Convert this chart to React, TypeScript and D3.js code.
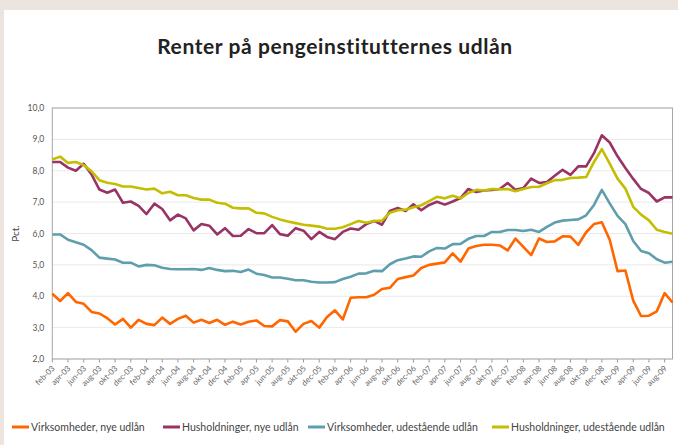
import * as d3 from "d3";
import { useEffect, useRef } from "react";

// Danish month abbreviations for the tick labels
const monthNames = ["jan", "feb", "mar", "apr", "maj", "jun", "jul", "aug", "sep", "okt", "nov", "dec"];

// Monthly observations feb-03 .. sep-09
const months = d3.timeMonth.range(new Date(2003, 1, 1), new Date(2009, 9, 1));

const virksomhederNye = [
  4.08, 3.85, 4.1, 3.82, 3.76, 3.5, 3.45, 3.3, 3.1, 3.28,
  3.0, 3.25, 3.12, 3.08, 3.32, 3.12, 3.28, 3.38, 3.16, 3.25,
  3.15, 3.25, 3.09, 3.19, 3.1, 3.19, 3.23, 3.05, 3.04, 3.24,
  3.2, 2.87, 3.12, 3.21, 3.0, 3.34, 3.55, 3.26, 3.95, 3.97,
  3.97, 4.05, 4.23, 4.27, 4.55, 4.61, 4.66, 4.9, 5.0, 5.04,
  5.08, 5.37, 5.1, 5.52, 5.6, 5.64, 5.64, 5.62, 5.46, 5.84,
  5.57, 5.31, 5.84, 5.73, 5.75, 5.91, 5.9, 5.64, 6.04, 6.3,
  6.36, 5.8, 4.8, 4.82, 3.86, 3.37, 3.38, 3.52, 4.1, 3.8,
];

const husholdningerNye = [
  8.28, 8.28, 8.1, 8.0, 8.22, 7.88, 7.4, 7.3, 7.4, 6.98,
  7.02, 6.88, 6.62, 6.95, 6.78, 6.42, 6.6, 6.48, 6.1, 6.3,
  6.25, 5.97, 6.17, 5.92, 5.93, 6.14, 6.01, 6.01, 6.27, 5.98,
  5.93, 6.17, 6.09, 5.82, 6.05, 5.89, 5.82, 6.05, 6.16, 6.12,
  6.3, 6.4, 6.28, 6.72, 6.81, 6.72, 6.93, 6.74, 6.91, 7.01,
  6.92, 7.02, 7.13, 7.42, 7.32, 7.37, 7.39, 7.42, 7.61, 7.39,
  7.45, 7.75, 7.61, 7.64, 7.84, 8.03, 7.87, 8.14, 8.14, 8.56,
  9.13, 8.9, 8.46, 8.09, 7.74, 7.42, 7.29, 7.02, 7.15, 7.15,
];

const virksomhederUde = [
  5.97, 5.97, 5.8, 5.72, 5.64, 5.47, 5.23, 5.2, 5.17, 5.07,
  5.07, 4.95, 5.0, 4.99, 4.91, 4.87, 4.86, 4.86, 4.87, 4.84,
  4.9, 4.84, 4.8, 4.81, 4.77, 4.85, 4.72, 4.68, 4.6, 4.6,
  4.56, 4.51, 4.51, 4.46, 4.44, 4.44, 4.45, 4.55, 4.62, 4.72,
  4.73, 4.81, 4.8, 5.02, 5.15, 5.2, 5.27, 5.26, 5.43, 5.54,
  5.52, 5.66, 5.67, 5.83, 5.92, 5.92, 6.05, 6.05, 6.11, 6.11,
  6.08, 6.12, 6.05, 6.21, 6.35, 6.41, 6.43, 6.45, 6.58, 6.91,
  7.39, 6.96, 6.56, 6.3, 5.76, 5.44, 5.37, 5.18, 5.07, 5.1,
];

const husholdningerUde = [
  8.36, 8.45, 8.25, 8.28, 8.18, 7.98, 7.7, 7.62, 7.58, 7.5,
  7.5, 7.45, 7.4, 7.43, 7.28, 7.33, 7.22, 7.22, 7.13, 7.08,
  7.08, 6.98, 6.95, 6.82, 6.8, 6.8, 6.66, 6.64, 6.53, 6.45,
  6.38, 6.33, 6.28, 6.25, 6.22, 6.15, 6.15, 6.2, 6.3, 6.4,
  6.34, 6.4, 6.41, 6.66, 6.74, 6.76, 6.84, 6.9, 7.03, 7.17,
  7.12, 7.2, 7.12, 7.29, 7.39, 7.37, 7.42, 7.41, 7.42, 7.35,
  7.42, 7.48, 7.49, 7.6, 7.7, 7.71, 7.77, 7.78, 7.8, 8.28,
  8.69, 8.23, 7.75, 7.43, 6.85, 6.6, 6.42, 6.12, 6.05, 5.99,
];

const yTicks = [2, 3, 4, 5, 6, 7, 8, 9, 10];

const series = [
  { name: "Virksomheder, nye udlån", values: virksomhederNye, color: "#ff6600" },
  { name: "Husholdninger, nye udlån", values: husholdningerNye, color: "#993366" },
  { name: "Virksomheder, udestående udlån", values: virksomhederUde, color: "#5f9ead" },
  { name: "Husholdninger, udestående udlån", values: husholdningerUde, color: "#c4be00" },
];

const width = 678;
const height = 445;
const font = "Lato, 'Open Sans', sans-serif";

export default function App() {
  const svgRef = useRef<SVGSVGElement | null>(null);

  useEffect(() => {
    const svg = d3.select(svgRef.current);
    svg.selectAll("*").remove();

    // Frame
    svg.append("rect").attr("width", width).attr("height", height).attr("fill", "#ece4de");
    svg.append("rect").attr("x", 4).attr("y", 10).attr("width", width - 4).attr("height", height - 10).attr("fill", "#fff");

    const margin = { top: 108, right: 5.5, bottom: 86, left: 52.3 };
    const x = d3
      .scaleLinear()
      .domain([0, months.length - 1])
      .range([margin.left, width - margin.right]);
    const y = d3
      .scaleLinear()
      .domain([2, 10])
      .range([height - margin.bottom, margin.top]);

    // Title
    svg
      .append("text")
      .attr("x", 335)
      .attr("y", 54)
      .attr("text-anchor", "middle")
      .attr("font-family", font)
      .attr("font-weight", 700)
      .attr("font-size", 21)
      .attr("letter-spacing", 0.6)
      .attr("fill", "#222")
      .text("Renter på pengeinstitutternes udlån");

    // Gridlines
    svg
      .append("g")
      .selectAll("line")
      .data(yTicks)
      .join("line")
      .attr("x1", margin.left)
      .attr("x2", width - margin.right)
      .attr("y1", (d) => y(d))
      .attr("y2", (d) => y(d))
      .attr("stroke", "#e9e9e9")
      .attr("stroke-width", 1);

    // Y axis labels
    svg
      .append("g")
      .selectAll("text")
      .data(yTicks)
      .join("text")
      .attr("x", margin.left - 8)
      .attr("y", (d) => y(d) + 3)
      .attr("text-anchor", "end")
      .attr("font-family", font)
      .attr("font-size", 8.5)
      .attr("fill", "#555")
      .text((d) => d3.format(".1f")(d).replace(".", ","));

    svg
      .append("text")
      .attr("transform", `translate(19,${(y(2) + y(10)) / 2}) rotate(-90)`)
      .attr("text-anchor", "middle")
      .attr("font-family", font)
      .attr("font-size", 10)
      .attr("fill", "#444")
      .text("Pct.");

    // X ticks and labels, every second month
    const tickIdx = d3.range(0, months.length, 2);
    const xAxis = svg.append("g");
    xAxis
      .selectAll("line")
      .data(tickIdx)
      .join("line")
      .attr("x1", (d) => x(d))
      .attr("x2", (d) => x(d))
      .attr("y1", y(2))
      .attr("y2", y(2) + 3.5)
      .attr("stroke", "#999");
    xAxis
      .selectAll("text")
      .data(tickIdx)
      .join("text")
      .attr("transform", (d) => `translate(${x(d) + 3},${y(2) + 10}) rotate(-45)`)
      .attr("text-anchor", "end")
      .attr("font-family", font)
      .attr("font-size", 8)
      .attr("fill", "#666")
      .text((d) => `${monthNames[months[d].getMonth()]}-${d3.timeFormat("%y")(months[d])}`);

    // Plot border
    svg
      .append("rect")
      .attr("x", margin.left)
      .attr("y", margin.top)
      .attr("width", width - margin.right - margin.left)
      .attr("height", y(2) - y(10))
      .attr("fill", "none")
      .attr("stroke", "#a6a6a6")
      .attr("stroke-width", 1);

    // Lines
    const line = d3
      .line<number>()
      .x((_, i) => x(i))
      .y((d) => y(d));

    series.forEach((s) => {
      svg
        .append("path")
        .datum(s.values)
        .attr("fill", "none")
        .attr("stroke", s.color)
        .attr("stroke-width", 2.6)
        .attr("stroke-linejoin", "round")
        .attr("d", line);
    });

    // Legend
    const legendX = [12, 163, 308, 492];
    const legend = svg
      .append("g")
      .selectAll("g")
      .data(series)
      .join("g")
      .attr("transform", (_, i) => `translate(${legendX[i]},427)`);
    legend
      .append("line")
      .attr("x1", 0)
      .attr("x2", 17)
      .attr("stroke", (d) => d.color)
      .attr("stroke-width", 3);
    legend
      .append("text")
      .attr("x", 19)
      .attr("y", 3.5)
      .attr("font-family", font)
      .attr("font-size", 10.5)
      .attr("fill", "#444")
      .text((d) => d.name);
  }, []);

  return (
    <svg
      ref={svgRef}
      width={width}
      height={height}
      style={{ position: "absolute", left: 0, top: 0 }}
    ></svg>
  );
}
